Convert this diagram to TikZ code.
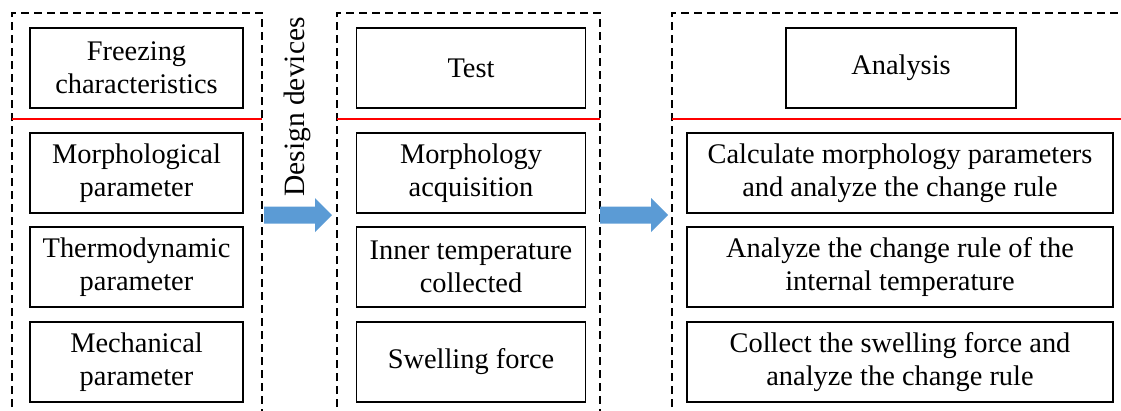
\documentclass[tikz,border=0pt]{standalone}
\usepackage{fontspec}
\setmainfont{Liberation Serif}
\usetikzlibrary{calc}
\definecolor{arrowblue}{HTML}{5B9BD5}

\tikzset{
    stage/.style={draw, line width=1.6pt, align=center, inner sep=0pt,
        minimum height=80pt, font=\fontsize{28.4}{33}\selectfont},
    frame/.style={draw, line width=1.6pt, dash pattern=on 8pt off 5pt},
    divider/.style={draw=red, line width=1.6pt}
}

\begin{document}
\begin{tikzpicture}[x=1pt, y=-1pt]
% Variables: 1 := start of the arrow, 2 := name of its tip.
\def\flowarrow(#1)#2{
    \begin{scope}[shift={(#1)}]
        \fill[arrowblue] (0,-8.5) -- (51,-8.5) -- (51,-17) -- (68,0)
            -- (51,17) -- (51,8.5) -- (0,8.5) -- cycle;
        \coordinate (#2) at (68,0);
    \end{scope}
}
\clip (0,0) rectangle (1121,410);

% dashed groups, open at the bottom
\draw[frame] (12,420) -- (12,13) -- (262,13) -- (262,420);
\draw[frame] (337,420) -- (337,13) -- (600,13) -- (600,420);
\draw[frame] (672,420) -- (672,13) -- (1130,13);
\draw[divider] (12,119) -- (262,119);
\draw[divider] (337,119) -- (600,119);
\draw[divider] (672,119) -- (1121,119);

\node[stage, minimum width=213pt] (freeze) at (136.5,68) {Freezing\\characteristics};
\node[stage, minimum width=213pt] (morph) at (136.5,173) {Morphological\\parameter};
\node[stage, minimum width=213pt] (thermo) at (136.5,267) {Thermodynamic\\parameter};
\node[stage, minimum width=213pt] (mech) at (136.5,362) {Mechanical\\parameter};

\node[stage, minimum width=229pt] (test) at (471,68) {Test};
\node[stage, minimum width=229pt] (acq) at (471,173) {Morphology\\acquisition};
\node[stage, minimum width=229pt] (temp) at (471,267) {Inner temperature\\collected};
\node[stage, minimum width=229pt] (swell) at (471,362) {Swelling force};

\node[stage, minimum width=230pt] (ana) at (901,68) {Analysis};
\node[stage, minimum width=426pt] (calc) at (900,173) {Calculate morphology parameters\\and analyze the change rule};
\node[stage, minimum width=426pt] (rule) at (900,267) {Analyze the change rule of the\\internal temperature};
\node[stage, minimum width=426pt] (force) at (900,362) {Collect the swelling force and\\analyze the change rule};

\flowarrow(264,215){tip1}
\flowarrow(600,215){tip2}
\node[rotate=90, font=\fontsize{29.5}{33}\selectfont] (design) at (297,107) {Design devices};
\end{tikzpicture}
\end{document}
